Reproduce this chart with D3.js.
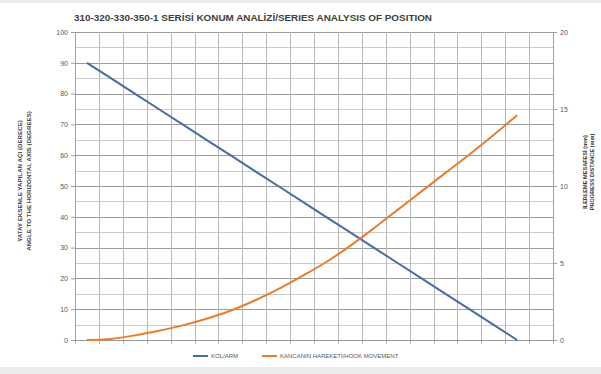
<!DOCTYPE html>
<html>
<head>
<meta charset="utf-8">
<script src="https://cdn.jsdelivr.net/npm/d3@7"></script>
<style>
  body { margin: 0; background: #fff; }
  svg { display: block; font-family: "Liberation Sans", Arial, sans-serif; }
</style>
</head>
<body>
<script>
// x categories (positions along the travel), last slot stays empty
var steps = ["1","2","3","4","5","6","7","8","9","10","11","12","13","14","15","16","17","18","19","20"];
// KOL/ARM angle, degrees (left axis)
var armAngle = [90, 85, 80, 75, 70, 65, 60, 55, 50, 45, 40, 35, 30, 25, 20, 15, 10, 5, 0];
// KANCANIN HAREKETI / HOOK MOVEMENT, mm (right axis)
var hookMove = [0, 0.07, 0.3, 0.6, 0.95, 1.38, 1.9, 2.55, 3.3, 4.15, 5.05, 6.1, 7.25, 8.45, 9.65, 10.85, 12.05, 13.3, 14.6];
var leftTicks = [0, 10, 20, 30, 40, 50, 60, 70, 80, 90, 100];
var rightTicks = [0, 5, 10, 15, 20];
var leftGrid = [0, 5, 10, 15, 20, 25, 30, 35, 40, 45, 50, 55, 60, 65, 70, 75, 80, 85, 90, 95, 100];

var w = 601, h = 374;
var margin = {left: 75, right: 48, top: 32, bottom: 34};
var pw = w - margin.left - margin.right,
    ph = h - margin.top - margin.bottom;

var svg = d3.select('body').append('svg').attr("width", w).attr("height", h);

// light frame bands like the screenshot
svg.append("rect").attr("x", 0).attr("y", 0).attr("width", w).attr("height", 3).attr("fill", "#ececec");
svg.append("rect").attr("x", 0).attr("y", 367).attr("width", w).attr("height", 7).attr("fill", "#ececec");

var x = d3.scaleBand().domain(steps).range([0, pw]);
var yL = d3.scaleLinear().domain([0, 100]).range([ph, 0]);
var yR = d3.scaleLinear().domain([0, 20]).range([ph, 0]);

var g = svg.append("g").attr("transform", "translate(" + margin.left + "," + margin.top + ")");

// horizontal grid (every 5 deg, darker every 10)
g.selectAll("line.hgrid").data(leftGrid).enter().append("line")
  .attr("class", "hgrid")
  .attr("x1", 0).attr("x2", pw)
  .attr("y1", function(d) { return Math.round(yL(d)) + 0.5; })
  .attr("y2", function(d) { return Math.round(yL(d)) + 0.5; })
  .attr("stroke", function(d) { return d % 10 === 0 ? "#9c9c9c" : "#cccccc"; })
  .attr("stroke-width", 1);

// vertical grid on band edges, running a little under the axis
var edges = steps.map(function(s) { return x(s); }).concat([pw]);
g.selectAll("line.vgrid").data(edges).enter().append("line")
  .attr("class", "vgrid")
  .attr("x1", function(d) { return Math.round(d) + 0.5; })
  .attr("x2", function(d) { return Math.round(d) + 0.5; })
  .attr("y1", 0).attr("y2", ph + 4)
  .attr("stroke", "#b8b8b8").attr("stroke-width", 1);

// left axis
var axL = d3.axisLeft(yL).tickValues(leftTicks).tickSize(4).tickPadding(3);
var gL = g.append("g").call(axL);
gL.select(".domain").attr("stroke", "#a0a0a0");
gL.selectAll(".tick line").attr("stroke", "#a0a0a0");
gL.selectAll("text").attr("font-size", 7).attr("fill", "#595959").attr("font-family", "Liberation Sans, Arial, sans-serif");

// right axis
var axR = d3.axisRight(yR).tickValues(rightTicks).tickSize(4).tickPadding(3);
var gR = g.append("g").attr("transform", "translate(" + pw + ",0)").call(axR);
gR.select(".domain").attr("stroke", "#a0a0a0");
gR.selectAll(".tick line").attr("stroke", "#a0a0a0");
gR.selectAll("text").attr("font-size", 7).attr("fill", "#595959").attr("font-family", "Liberation Sans, Arial, sans-serif");

// bottom axis line
g.append("line").attr("x1", 0).attr("x2", pw).attr("y1", ph + 0.5).attr("y2", ph + 0.5)
  .attr("stroke", "#999");

var cx = function(d, i) { return x(steps[i]) + x.bandwidth() / 2; };

var armLine = d3.line().x(cx).y(function(d) { return yL(d); });
var hookLine = d3.line().x(cx).y(function(d) { return yR(d); }).curve(d3.curveMonotoneX);

g.append("path").datum(armAngle).attr("d", armLine)
  .attr("fill", "none").attr("stroke", "#4a6ca4").attr("stroke-width", 2);
g.append("path").datum(hookMove).attr("d", hookLine)
  .attr("fill", "none").attr("stroke", "#e87d2f").attr("stroke-width", 2);

// title
svg.append("text").attr("x", 74).attr("y", 21)
  .attr("font-size", 9.5).attr("font-weight", "bold").attr("fill", "#404040")
  .attr("textLength", 358).attr("lengthAdjust", "spacingAndGlyphs")
  .text("310-320-330-350-1 SERİSİ KONUM ANALİZİ/SERIES ANALYSIS OF POSITION");

// left axis title
var lt = svg.append("text").attr("transform", "translate(22,181) rotate(-90)")
  .attr("text-anchor", "middle").attr("font-size", 6.2).attr("font-weight", "bold").attr("fill", "#404040");
lt.append("tspan").attr("x", 0).attr("y", 0).text("YATAY EKSENLE YAPILAN AÇI (DERECE)");
lt.append("tspan").attr("x", 0).attr("y", 8.5).text("ANGLE TO THE HORIZONTAL AXIS  (DEGREES)");

// right axis title
var rt = svg.append("text").attr("transform", "translate(587,172) rotate(-90)")
  .attr("text-anchor", "middle").attr("font-size", 5.6).attr("font-weight", "bold").attr("fill", "#404040");
rt.append("tspan").attr("x", 0).attr("y", 0).text("İLERLEME MESAFESİ (mm)");
rt.append("tspan").attr("x", 0).attr("y", 7).text("PROGRESS DISTANCE (mm)");

// legend
var legend = [
  {name: "KOL/ARM", color: "#4a6ca4", x: 193},
  {name: "KANCANIN HAREKETİ/HOOK  MOVEMENT", color: "#e87d2f", x: 262}
];
var lg = svg.selectAll("g.legend").data(legend).enter().append("g")
  .attr("class", "legend")
  .attr("transform", function(d) { return "translate(" + d.x + ",356)"; });
lg.append("line").attr("x1", 0).attr("x2", 15).attr("y1", 0).attr("y2", 0)
  .attr("stroke", function(d) { return d.color; }).attr("stroke-width", 2);
lg.append("text").attr("x", 18).attr("y", 2.3).attr("font-size", 6).attr("fill", "#595959")
  .text(function(d) { return d.name; });
</script>
</body>
</html>
